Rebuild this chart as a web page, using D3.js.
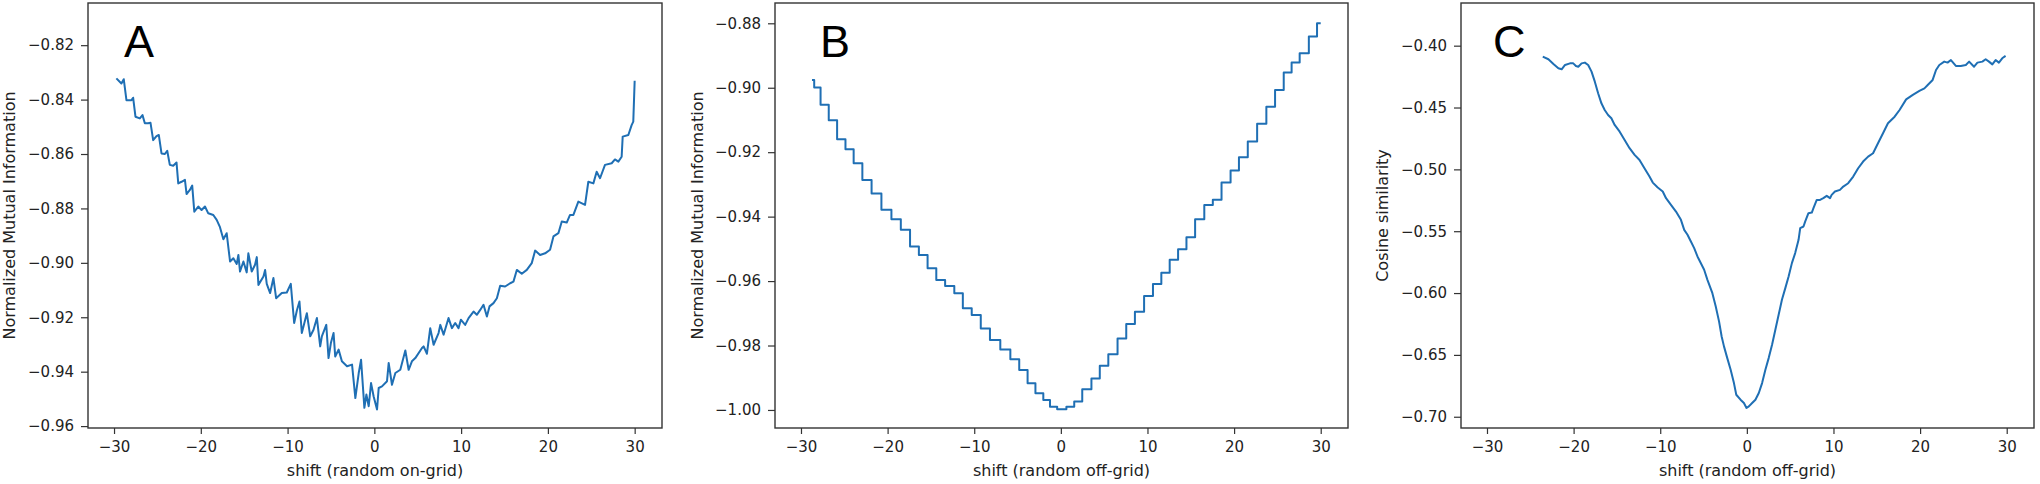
<!DOCTYPE html>
<html>
<head>
<meta charset="utf-8">
<script src="https://cdn.jsdelivr.net/npm/d3@7"></script>
<style>
	body { margin: 0; background: #fff; }
	text { font-family: "DejaVu Sans", sans-serif; fill: #222; }
</style>
</head>
<body>
<div id="graph"></div>
<script>
// shift vs score, one pair of arrays per panel

// A - random on-grid, normalized mutual information
const aShift = [-29.73,-29.15,-28.88,-28.57,-27.99,-27.80,-27.53,-27.03,-26.72,-26.45,-26.07,-25.80,-25.49,-25.11,-24.84,-24.53,-24.14,-23.87,-23.57,-23.18,-22.80,-22.60,-22.22,-21.83,-21.64,-21.26,-20.99,-20.75,-20.29,-19.91,-19.52,-19.14,-18.56,-18.17,-17.79,-17.40,-17.02,-16.63,-16.25,-15.86,-15.67,-15.48,-15.09,-14.71,-14.52,-14.13,-13.75,-13.55,-13.36,-12.78,-12.59,-12.40,-12.01,-11.63,-11.32,-10.67,-10.09,-9.63,-9.24,-8.93,-8.63,-8.36,-7.97,-7.78,-7.39,-7.01,-6.62,-6.24,-6.05,-5.54,-5.28,-5.01,-4.70,-4.51,-4.12,-3.74,-3.15,-2.57,-2.19,-1.80,-1.53,-1.15,-0.92,-0.65,-0.38,-0.08,0.31,0.50,0.88,1.46,1.65,2.03,2.42,2.99,3.57,3.95,4.33,4.72,5.49,5.68,6.06,6.44,6.83,7.40,7.60,7.98,8.55,8.94,9.32,9.70,9.97,10.47,10.86,11.43,11.81,12.20,12.58,12.97,13.27,13.73,14.12,14.50,15.07,15.65,16.03,16.42,16.99,17.57,18.14,18.53,19.10,19.68,20.25,20.64,21.21,21.60,22.17,22.55,22.94,23.51,24.28,24.66,25.24,25.62,26.01,26.58,27.35,27.73,28.12,28.50,28.62,29.27,29.65,29.84,30.00];
const aNMI = [-0.8322,-0.8341,-0.8325,-0.8402,-0.8402,-0.8393,-0.8463,-0.8469,-0.8457,-0.8487,-0.8487,-0.8485,-0.8549,-0.8534,-0.8530,-0.8598,-0.8600,-0.8588,-0.8640,-0.8643,-0.8631,-0.8708,-0.8702,-0.8695,-0.8747,-0.8732,-0.8716,-0.8812,-0.8793,-0.8806,-0.8793,-0.8818,-0.8824,-0.8842,-0.8869,-0.8913,-0.8891,-0.8995,-0.8983,-0.9004,-0.8971,-0.9032,-0.8995,-0.9035,-0.8965,-0.9032,-0.9007,-0.8979,-0.9081,-0.9050,-0.9026,-0.9077,-0.9111,-0.9056,-0.9130,-0.9111,-0.9109,-0.9077,-0.9221,-0.9175,-0.9142,-0.9258,-0.9209,-0.9185,-0.9270,-0.9246,-0.9203,-0.9307,-0.9270,-0.9228,-0.9350,-0.9295,-0.9258,-0.9344,-0.9319,-0.9362,-0.9380,-0.9374,-0.9497,-0.9405,-0.9356,-0.9533,-0.9484,-0.9527,-0.9442,-0.9491,-0.9539,-0.9460,-0.9454,-0.9435,-0.9368,-0.9448,-0.9405,-0.9393,-0.9322,-0.9393,-0.9362,-0.9350,-0.9313,-0.9307,-0.9334,-0.9240,-0.9301,-0.9258,-0.9228,-0.9264,-0.9203,-0.9240,-0.9221,-0.9240,-0.9209,-0.9228,-0.9203,-0.9179,-0.9191,-0.9173,-0.9154,-0.9197,-0.9160,-0.9148,-0.9130,-0.9084,-0.9087,-0.9075,-0.9069,-0.9026,-0.9040,-0.9026,-0.9001,-0.8955,-0.8971,-0.8965,-0.8952,-0.8903,-0.8891,-0.8848,-0.8852,-0.8824,-0.8824,-0.8775,-0.8787,-0.8702,-0.8708,-0.8665,-0.8689,-0.8640,-0.8634,-0.8620,-0.8628,-0.8610,-0.8536,-0.8530,-0.8494,-0.8481,-0.8331];

// B - random off-grid, normalized mutual information (one value per step)
const bShift = [-28.73,-28.22,-27.26,-26.33,-25.33,-24.40,-23.44,-22.39,-21.31,-20.12,-19.00,-17.95,-16.87,-15.91,-14.86,-13.90,-12.82,-11.78,-10.85,-9.73,-8.76,-7.61,-6.37,-5.29,-4.32,-3.36,-2.51,-1.54,-0.97,0.12,1.16,1.93,3.01,4.05,4.94,6.02,7.07,8.03,9.07,10.15,11.12,12.08,13.05,14.02,14.98,16.02,17.10,17.99,19.11,20.08,21.04,22.12,23.20,24.25,25.21,26.25,27.03,28.11,29.15,30.00];
const bNMI = [-0.8976,-0.8999,-0.9053,-0.9101,-0.9160,-0.9191,-0.9234,-0.9286,-0.9328,-0.9379,-0.9408,-0.9441,-0.9493,-0.9519,-0.9560,-0.9597,-0.9615,-0.9638,-0.9684,-0.9705,-0.9747,-0.9783,-0.9812,-0.9843,-0.9876,-0.9917,-0.9948,-0.9969,-0.9990,-0.9998,-0.9990,-0.9974,-0.9936,-0.9902,-0.9863,-0.9827,-0.9778,-0.9733,-0.9695,-0.9646,-0.9609,-0.9574,-0.9534,-0.9501,-0.9464,-0.9408,-0.9364,-0.9348,-0.9294,-0.9257,-0.9216,-0.9167,-0.9112,-0.9059,-0.9007,-0.8953,-0.8922,-0.8893,-0.8841,-0.8800];

// C - random off-grid, cosine similarity
const cShift = [-23.56,-22.91,-22.33,-21.76,-21.38,-20.99,-20.42,-20.04,-19.73,-19.46,-19.08,-18.70,-18.32,-17.93,-17.55,-17.17,-16.79,-16.41,-16.02,-15.64,-15.26,-14.68,-14.11,-13.54,-12.96,-12.39,-11.82,-11.24,-10.86,-10.29,-9.71,-9.33,-8.76,-8.18,-7.61,-7.23,-6.85,-6.46,-6.08,-5.70,-4.93,-4.55,-3.98,-3.59,-3.21,-2.91,-2.64,-2.26,-1.87,-1.49,-1.22,-0.73,-0.34,-0.04,0.23,0.61,0.99,1.38,1.76,2.14,2.52,2.91,3.29,3.67,4.05,4.44,4.82,5.20,5.58,5.97,6.16,6.54,6.73,7.11,7.50,7.69,8.07,8.45,8.83,9.22,9.60,9.79,10.17,10.75,11.13,11.70,12.28,12.85,13.42,14.00,14.57,15.14,15.72,16.29,17.06,17.63,18.39,19.16,19.92,20.50,20.88,21.45,21.84,22.22,22.79,23.17,23.56,24.13,24.70,25.28,25.66,26.23,26.62,27.19,27.57,27.95,28.34,28.72,29.10,29.48,29.87];
const cCosine = [-0.4089,-0.4110,-0.4148,-0.4183,-0.4191,-0.4156,-0.4143,-0.4143,-0.4164,-0.4170,-0.4143,-0.4137,-0.4156,-0.4210,-0.4291,-0.4385,-0.4466,-0.4520,-0.4560,-0.4587,-0.4641,-0.4695,-0.4762,-0.4829,-0.4883,-0.4924,-0.4991,-0.5058,-0.5107,-0.5147,-0.5179,-0.5233,-0.5287,-0.5341,-0.5408,-0.5489,-0.5529,-0.5583,-0.5637,-0.5704,-0.5812,-0.5893,-0.6001,-0.6108,-0.6229,-0.6351,-0.6431,-0.6526,-0.6620,-0.6728,-0.6822,-0.6862,-0.6889,-0.6929,-0.6916,-0.6889,-0.6862,-0.6808,-0.6728,-0.6620,-0.6526,-0.6418,-0.6297,-0.6176,-0.6054,-0.5960,-0.5866,-0.5758,-0.5677,-0.5570,-0.5475,-0.5462,-0.5422,-0.5354,-0.5349,-0.5314,-0.5247,-0.5247,-0.5233,-0.5214,-0.5233,-0.5206,-0.5179,-0.5166,-0.5139,-0.5112,-0.5058,-0.4991,-0.4937,-0.4897,-0.4870,-0.4789,-0.4708,-0.4627,-0.4574,-0.4520,-0.4434,-0.4398,-0.4366,-0.4345,-0.4318,-0.4277,-0.4197,-0.4156,-0.4129,-0.4137,-0.4116,-0.4164,-0.4164,-0.4156,-0.4129,-0.4170,-0.4137,-0.4129,-0.4110,-0.4129,-0.4151,-0.4116,-0.4137,-0.4102,-0.4083];

// ticks
const xTicks = [-30, -20, -10, 0, 10, 20, 30];
const aTicks = [-0.96, -0.94, -0.92, -0.90, -0.88, -0.86, -0.84, -0.82];
const bTicks = [-1.00, -0.98, -0.96, -0.94, -0.92, -0.90, -0.88];
const cTicks = [-0.70, -0.65, -0.60, -0.55, -0.50, -0.45, -0.40];

const panelLetters = ["A", "B", "C"];
const yLabels = ["Normalized Mutual Information", "Normalized Mutual Information", "Cosine similarity"];
const xLabels = ["shift (random on-grid)", "shift (random off-grid)", "shift (random off-grid)"];

App = {};

App.panel = function(svg, p) {
	const top = 3;
	const bottom = 428;
	const width = p.right - p.left;
	const height = bottom - top;

	const bounds = svg
		.append("g")
		.attr("transform", `translate(${p.left},${top})`);

	const xScale = d3
		.scaleLinear()
		.domain([-33, 33.15])
		.range([0, width])
		;

	const yScale = d3
		.scaleLinear()
		.domain(p.yDomain)
		.range([height, 0])
		;

	const data = p.xs.map((x, i) => ({x: x, y: p.ys[i]}));

	const lineGenerator = d3.line()
		.x(d => xScale(d.x))
		.y(d => yScale(d.y))
		.curve(p.curve)
		;

	bounds.append("path")
		.datum(data)
		.attr("d", lineGenerator)
		.attr("fill", "none")
		.attr("stroke", "#1f6fb4")
		.attr("stroke-width", 2)
		.attr("stroke-linejoin", "round")
		;

	// frame
	bounds.append("rect")
		.attr("width", width)
		.attr("height", height)
		.attr("fill", "none")
		.attr("stroke", "#333")
		.attr("stroke-width", 1.4)
		;

	// axes
	const xAxis = bounds.append("g")
		.attr("transform", `translate(0,${height})`)
		.call(d3.axisBottom(xScale)
			.tickValues(xTicks)
			.tickSize(6)
			.tickPadding(7)
			.tickFormat(d3.format("d")))
		;

	const yAxis = bounds.append("g")
		.call(d3.axisLeft(yScale)
			.tickValues(p.yTicks)
			.tickSize(7)
			.tickPadding(7)
			.tickFormat(d3.format(".2f")))
		;

	[xAxis, yAxis].forEach(ax => {
		ax.select(".domain").remove();
		ax.selectAll(".tick line").attr("stroke", "#333").attr("stroke-width", 1.2);
		ax.selectAll(".tick text")
			.attr("fill", "#222")
			.style("font-family", "'DejaVu Sans', sans-serif")
			.style("font-size", "15px");
	});

	// labels
	bounds.append("text")
		.attr("transform", `translate(${p.yLabelX - p.left},${height / 2}) rotate(-90)`)
		.attr("text-anchor", "middle")
		.style("font-size", "16px")
		.text(p.yLabel)
		;

	bounds.append("text")
		.attr("x", width / 2)
		.attr("y", 476 - top)
		.attr("text-anchor", "middle")
		.style("font-size", "16px")
		.text(p.xLabel)
		;

	bounds.append("text")
		.attr("x", p.letterX - p.left)
		.attr("y", 57 - top)
		.style("font-family", "'Liberation Sans', Arial, sans-serif")
		.style("font-size", "45px")
		.style("fill", "#000")
		.text(p.letter)
		;
}

App.run = function() {
	const svg = d3
		.select("#graph")
		.append("svg")
			.attr("width", 2040)
			.attr("height", 484)
		;

	App.panel(svg, {
		left: 88, right: 662, xs: aShift, ys: aNMI,
		yDomain: [-0.9607, -0.8045], yTicks: aTicks, curve: d3.curveLinear,
		yLabel: yLabels[0], yLabelX: 15, xLabel: xLabels[0],
		letter: panelLetters[0], letterX: 124
	});

	App.panel(svg, {
		left: 775, right: 1348, xs: bShift, ys: bNMI,
		yDomain: [-1.0056, -0.8737], yTicks: bTicks, curve: d3.curveStep,
		yLabel: yLabels[1], yLabelX: 703, xLabel: xLabels[1],
		letter: panelLetters[1], letterX: 820
	});

	App.panel(svg, {
		left: 1461, right: 2034, xs: cShift, ys: cCosine,
		yDomain: [-0.7091, -0.3655], yTicks: cTicks, curve: d3.curveLinear,
		yLabel: yLabels[2], yLabelX: 1388, xLabel: xLabels[2],
		letter: panelLetters[2], letterX: 1493
	});
}

window.onload = function() {
	App.run();
}
</script>
</body>
</html>
